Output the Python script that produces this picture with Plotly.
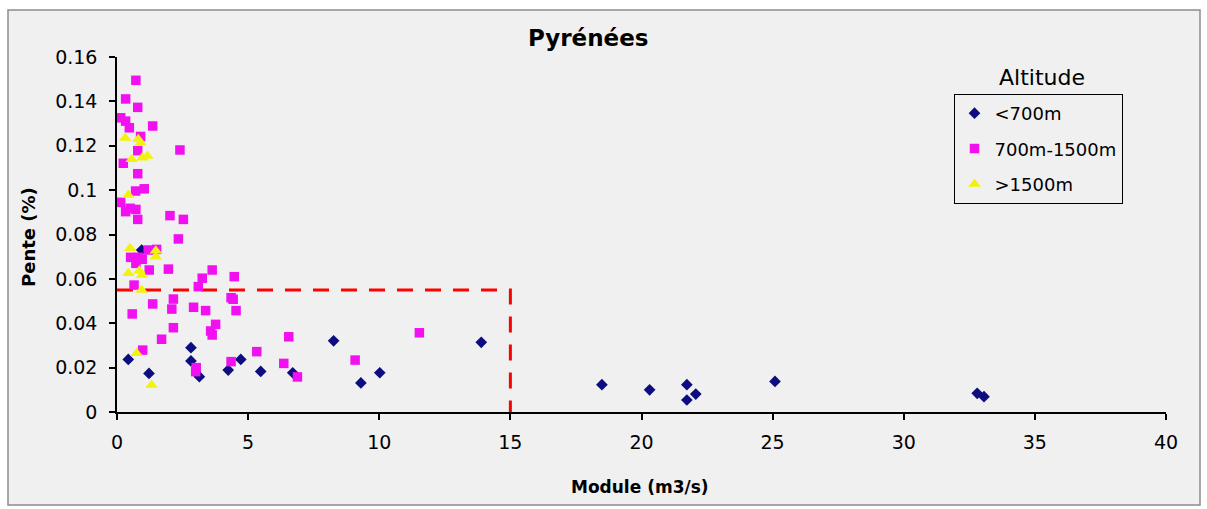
import plotly.graph_objects as go

# ---- data ----
low_x = [0.94, 0.43, 1.22, 2.82, 2.82, 3.14, 4.24, 4.72, 5.48, 6.70, 8.26, 9.30, 10.02, 13.89,
         18.49, 20.31, 21.73, 22.07, 21.73, 25.09, 32.80, 33.06]
low_y = [0.073, 0.0237, 0.0174, 0.029, 0.023, 0.0159, 0.0189, 0.0237, 0.0183, 0.0177, 0.0321,
         0.0131, 0.0177, 0.0314, 0.0123, 0.0100, 0.0123, 0.0081, 0.0054, 0.0138, 0.0084, 0.0069]

mid_x = [0.72, 0.33, 0.79, 0.14, 0.33, 0.47, 1.36, 0.90, 2.40, 0.79, 0.24, 0.79, 0.71, 1.04,
         0.14, 0.33, 0.50, 0.72, 0.79, 2.02, 2.53, 2.34,
         1.19, 1.51, 0.52, 0.81, 0.96, 0.72, 1.23, 1.96, 3.63, 3.25,
         4.47, 3.10, 0.65, 4.35, 4.43, 2.15, 1.36, 2.09, 2.92, 3.38,
         4.54, 0.58, 3.76, 3.57, 3.63, 2.15, 1.70, 0.98, 5.33, 4.35,
         3.02, 3.00, 6.55, 6.36, 6.88, 9.08, 11.53]
mid_y = [0.1495, 0.1411, 0.1373, 0.1326, 0.1311, 0.1281, 0.1289, 0.1242, 0.1181, 0.1178, 0.1121,
         0.1074, 0.0996, 0.1006, 0.0945, 0.0903, 0.0918, 0.0913, 0.0868, 0.0885, 0.0868, 0.0780,
         0.0730, 0.0733, 0.0697, 0.0697, 0.0688, 0.0670, 0.0640, 0.0644, 0.0640, 0.0603,
         0.0610, 0.0565, 0.0572, 0.0515, 0.0508, 0.0509, 0.0487, 0.0464, 0.0472, 0.0457,
         0.0457, 0.0442, 0.0395, 0.0365, 0.0347, 0.0380, 0.0328, 0.0279, 0.0272, 0.0227,
         0.0200, 0.0182, 0.0339, 0.0219, 0.0158, 0.0234, 0.0357]

high_x = [0.31, 0.81, 0.90, 0.56, 0.96, 1.16, 0.43, 0.50, 1.48, 1.48, 0.43, 0.85, 0.95, 0.94, 0.75, 1.32]
high_y = [0.1235, 0.1229, 0.1214, 0.1139, 0.1146, 0.1154, 0.0978, 0.0738, 0.0727, 0.0700, 0.0625,
          0.0637, 0.0617, 0.0550, 0.0265, 0.0122]

threshold_x = [0, 15, 15]
threshold_y = [0.055, 0.055, 0]

series_names = ["<700m", "700m-1500m", ">1500m"]
x_ticks = [0, 5, 10, 15, 20, 25, 30, 35, 40]
y_ticks = [0, 0.02, 0.04, 0.06, 0.08, 0.1, 0.12, 0.14, 0.16]

FONT = "DejaVu Sans, Liberation Sans, Arial"
BG = "#f0f0f0"

fig = go.Figure()

fig.add_trace(go.Scatter(x=threshold_x, y=threshold_y, mode="lines", showlegend=False,
                         line=dict(color="#ff0000", width=3, dash="16px,12px"), hoverinfo="skip"))

fig.add_trace(go.Scatter(x=low_x, y=low_y, mode="markers", name=series_names[0], legendgroup="a",
                         marker=dict(symbol="diamond", size=9, color="#0d0d80", line=dict(width=0))))
fig.add_trace(go.Scatter(x=mid_x, y=mid_y, mode="markers", name=series_names[1], legendgroup="b",
                         marker=dict(symbol="square", size=9.5, color="#f010f0", line=dict(width=0))))
fig.add_trace(go.Scatter(x=high_x, y=high_y, mode="markers", name=series_names[2], legendgroup="c",
                         marker=dict(symbol="triangle-up", size=11, color="#f2f20f", line=dict(width=0))))

W, H = 1207, 509
L, R, T, B = 117, 41, 57, 97
pw, ph = W - L - R, H - T - B

def px(xp):
    return (xp - L) / pw

def py(yp):
    return (H - B - yp) / ph

fig.update_layout(
    width=W, height=H,
    margin=dict(l=L, r=R, t=T, b=B, autoexpand=False),
    paper_bgcolor="white",
    plot_bgcolor=BG,
    font=dict(family=FONT, color="black", size=19),
    showlegend=True,
    legend=dict(
        x=px(1038), y=py(94), xanchor="center", yanchor="top",
        bgcolor=BG, bordercolor="black", borderwidth=1,
        font=dict(family=FONT, size=18, color="black"),
        tracegroupgap=9,
    ),
    xaxis=dict(
        range=[0, 40], tickvals=x_ticks, showgrid=False, zeroline=False,
        showline=True, linecolor="black", linewidth=1.5,
        ticks="outside", ticklen=6, tickcolor="black", tickwidth=1.5,
        ticklabelstandoff=6,
        tickfont=dict(family=FONT, size=19, color="black"),
    ),
    yaxis=dict(
        range=[0, 0.16], tickvals=y_ticks, showgrid=False, zeroline=False,
        showline=True, linecolor="black", linewidth=1.5,
        ticks="outside", ticklen=6, tickcolor="black", tickwidth=1.5,
        ticklabelstandoff=8,
        tickfont=dict(family=FONT, size=19, color="black"),
    ),
    shapes=[dict(type="rect", xref="paper", yref="paper", layer="below",
                 x0=px(8), x1=px(1200), y0=py(505), y1=py(10),
                 fillcolor=BG, line=dict(color="#8c8c8c", width=1.5))],
    annotations=[
        dict(text="<b>Pyrénées</b>", xref="paper", yref="paper", x=px(588), y=py(38),
             xanchor="center", yanchor="middle", showarrow=False,
             font=dict(family=FONT, size=23, color="black")),
        dict(text="<b>Module (m3/s)</b>", xref="paper", yref="paper", x=px(640), y=py(487),
             xanchor="center", yanchor="middle", showarrow=False,
             font=dict(family=FONT, size=17, color="black")),
        dict(text="<b>Pente (%)</b>", xref="paper", yref="paper", x=px(28), y=py(237),
             xanchor="center", yanchor="middle", showarrow=False, textangle=-90,
             font=dict(family=FONT, size=18, color="black")),
        dict(text="Altitude", xref="paper", yref="paper", x=px(1042), y=py(77),
             xanchor="center", yanchor="middle", showarrow=False,
             font=dict(family=FONT, size=22, color="black")),
    ],
)

fig.write_html("out.html", config={"displayModeBar": False},
               post_script="document.body.style.margin='0px';document.body.style.padding='0px';")
